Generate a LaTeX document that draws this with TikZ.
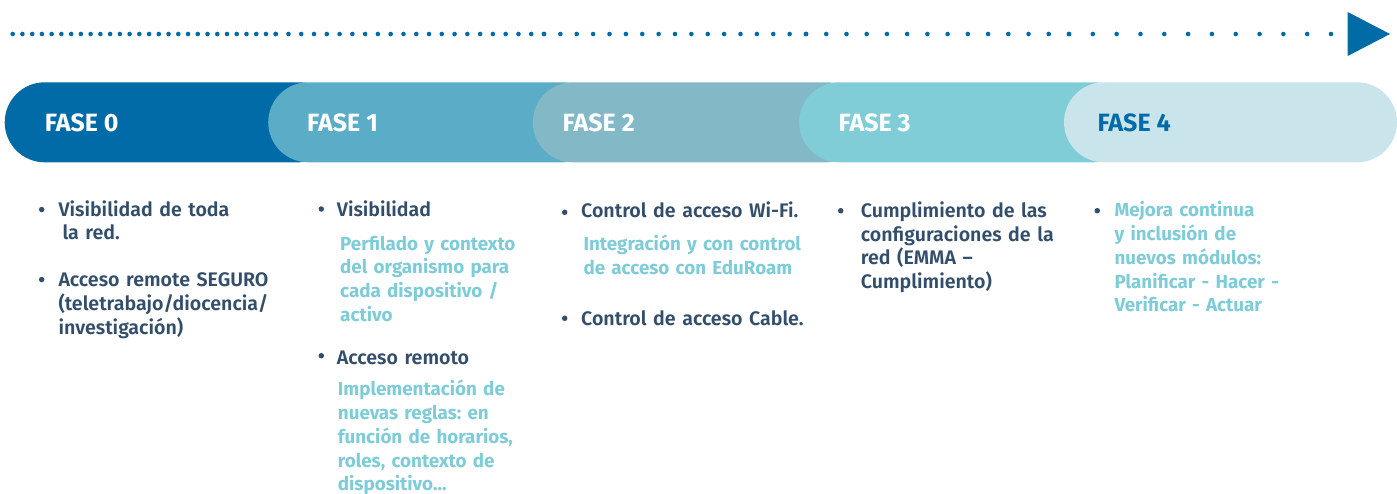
\documentclass[tikz,border=0pt]{standalone}
\usepackage{fontspec}
\setmainfont{Fira Sans}
\newfontfamily\semibold{Fira Sans SemiBold}
\usepackage{xcolor}
\frenchspacing

\definecolor{tlblue}{HTML}{006BA6}
\definecolor{bandA}{HTML}{5BACC7}
\definecolor{bandB}{HTML}{83B9C6}
\definecolor{bandC}{HTML}{81CDD7}
\definecolor{bandD}{HTML}{C9E5EB}
\definecolor{txtdark}{HTML}{334E6B}
\definecolor{txtlight}{HTML}{7DCCD8}

\begin{document}
\begin{tikzpicture}[
        x=1pt, y=-1pt, % one unit = one pixel of the layout
        band/.style={rectangle, rounded corners=40pt, minimum height=80pt, minimum width=334pt, inner sep=0pt, anchor=west}, % Phase band
        fase/.style={anchor=base west, inner sep=0pt, font=\fontsize{25}{29}\selectfont\bfseries, text=white}, % Phase title
        dot/.style={circle, fill=txtdark, inner sep=0pt, minimum size=5.5pt}, % Bullet
        item/.style={anchor=base west, inner sep=0pt, text width=260pt, align=left, text=txtdark, font=\fontsize{19.6}{23.8}\selectfont\semibold}, % Bullet text
        note/.style={item, text=txtlight, font=\fontsize{18.8}{23.8}\selectfont\bfseries} % Detail text
    ]
        \useasboundingbox (0,0) rectangle (1397,493);

        % Timeline (dots get sparser towards the arrow)
        \foreach \a/\b/\n in {12.7/275.7/27, 275.7/544/21, 544/806/16, 806/1069/13, 1069/1331/11}
            \foreach \i in {0,...,\n}
                \fill[tlblue] ({\a+\i*(\b-\a)/\n},34) circle (2.3);
        \fill[tlblue] (1347.7,12) -- (1390,34) -- (1347.7,56) -- cycle;

        % Phase bands, each one over the previous
        \node (fase0) [band, fill=tlblue] at (4.5,122.3) {};
        \node (fase1) [band, fill=bandA] at (268,122.3) {};
        \node (fase2) [band, fill=bandB] at (532.6,122.3) {};
        \node (fase3) [band, fill=bandC] at (799,122.3) {};
        \node (fase4) [band, fill=bandD, minimum width=333pt] at (1063.8,122.3) {};

        % Phase titles
        \node (lbl0) [fase] at (44.6,131) {FASE 0};
        \node (lbl1) [fase] at (307,131) {FASE 1};
        \node (lbl2) [fase] at (562.5,131) {FASE 2};
        \node (lbl3) [fase] at (838.4,131) {FASE 3};
        \node (lbl4) [fase, text=tlblue] at (1097.3,131) {FASE 4};

        % Fase 0
        \node (b0a) [dot] at (41.7,209.5) {};
        \node (t0a) [item] at (58.3,216) {Visibilidad de toda\\\hspace*{4pt}la red.};
        \node (b0b) [dot] at (41.7,279.5) {};
        \node (t0b) [item] at (58.3,286.7) {Acceso remote SEGURO\\(teletrabajo/diocencia/\\investigación)};

        % Fase 1
        \node (b1a) [dot] at (321.3,209) {};
        \node (t1a) [item] at (336.7,216) {Visibilidad};
        \node (n1a) [note] at (340,250) {Perfilado y contexto\\del organismo para\\cada dispositivo /\\activo};
        \node (b1b) [dot] at (321.3,355.7) {};
        \node (t1b) [item] at (336.7,364) {Acceso remoto};
        \node (n1b) [note] at (337.7,395.7) {Implementación de\\nuevas reglas: en\\función de horarios,\\roles, contexto de\\dispositivo...};

        % Fase 2
        \node (b2a) [dot] at (564.7,212.3) {};
        \node (t2a) [item] at (581,217.3) {Control de acceso Wi-Fi.};
        \node (n2a) [note] at (583.3,250.7) {Integración y con control\\de acceso con EduRoam};
        \node (b2b) [dot] at (564.7,318.3) {};
        \node (t2b) [item] at (581,325) {Control de acceso Cable.};

        % Fase 3
        \node (b3a) [dot] at (840.7,210.7) {};
        \node (t3a) [item] at (860.7,217.3) {Cumplimiento de las\\configuraciones de la\\red (EMMA \textendash\\Cumplimiento)};

        % Fase 4
        \node (b4a) [dot] at (1097.3,210.7) {};
        \node (n4a) [note] at (1114.3,216.7) {Mejora continua\\y inclusión de\\nuevos módulos:\\Planificar - Hacer -\\Verificar - Actuar};

    \end{tikzpicture}
\end{document}
